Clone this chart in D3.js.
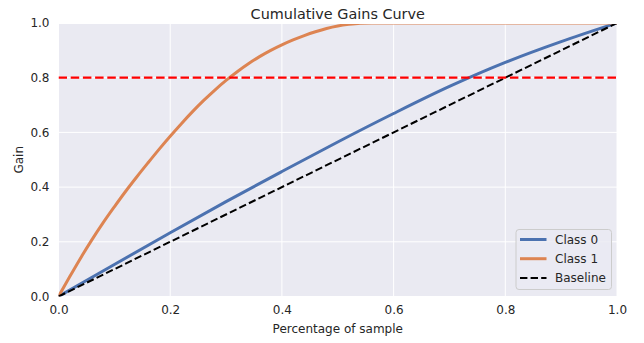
<!DOCTYPE html>
<html>
<head>
<meta charset="utf-8">
<script src="https://cdn.jsdelivr.net/npm/d3@7"></script>
<style>
  html, body { margin: 0; padding: 0; background: #ffffff; }
  svg { display: block; font-family: "DejaVu Sans", sans-serif; }
</style>
</head>
<body>
<svg id="chart" width="644" height="343"></svg>
<script>
// ---- data ----
const title = "Cumulative Gains Curve";
const xLabel = "Percentage of sample";
const yLabel = "Gain";
const xTicks = [0, 0.2, 0.4, 0.6, 0.8, 1.0];
const yTicks = [0, 0.2, 0.4, 0.6, 0.8, 1.0];

const class0X = [0, 0.1, 0.2, 0.3, 0.4, 0.5, 0.6, 0.7, 0.8, 0.9, 1.0];
const class0Y = [0, 0.117, 0.233, 0.347, 0.457, 0.565, 0.669, 0.768, 0.856, 0.932, 1.0];

const class1X = [0, 0.02, 0.04, 0.06, 0.08, 0.1, 0.12, 0.14, 0.16, 0.18, 0.2, 0.22, 0.24, 0.26, 0.28, 0.3,
                 0.32, 0.34, 0.36, 0.38, 0.4, 0.42, 0.44, 0.46, 0.48, 0.5, 0.52, 0.54, 0.56, 1.0];
const class1Y = [0, 0.072, 0.142, 0.208, 0.27, 0.328, 0.384, 0.437, 0.488, 0.538, 0.586, 0.632, 0.676, 0.717, 0.755, 0.79,
                 0.822, 0.851, 0.877, 0.9, 0.92, 0.938, 0.954, 0.968, 0.98, 0.989, 0.995, 0.999, 1.0, 1.0];

const baselineX = [0, 1];
const baselineY = [0, 1];
const thresholdY = 0.8;

const legendLabels = ["Class 0", "Class 1", "Baseline"];

// ---- layout ----
const svg = d3.select("#chart");
const pL = 58.5, pR = 617, pT = 23, pB = 296.5;
const areaTop = 24;
const x = d3.scaleLinear().domain([0, 1]).range([pL, pR]);
const y = d3.scaleLinear().domain([0, 1]).range([pB, pT]);
const txt = "#262626";

// background
svg.append("rect").attr("x", pL).attr("y", areaTop)
  .attr("width", pR - pL).attr("height", pB - areaTop).attr("fill", "#eaeaf2");

// grid
svg.append("g").selectAll("line").data(xTicks).join("line")
  .attr("x1", d => x(d)).attr("x2", d => x(d)).attr("y1", areaTop).attr("y2", pB)
  .attr("stroke", "#ffffff").attr("stroke-width", 1);
svg.append("g").selectAll("line").data(yTicks.filter(d => d < 1)).join("line")
  .attr("y1", d => y(d)).attr("y2", d => y(d)).attr("x1", pL).attr("x2", pR)
  .attr("stroke", "#ffffff").attr("stroke-width", 1);

// axes (no tick marks, no domain line)
const xAxis = d3.axisBottom(x).tickValues(xTicks).tickFormat(d3.format(".1f")).tickSize(0).tickPadding(9);
const gx = svg.append("g").attr("transform", `translate(0,${pB})`).call(xAxis);
gx.select(".domain").remove();
gx.selectAll("text").attr("fill", txt).attr("font-size", 12).attr("font-family", "DejaVu Sans");

const yAxis = d3.axisLeft(y).tickValues(yTicks).tickFormat(d3.format(".1f")).tickSize(0).tickPadding(9);
const gy = svg.append("g").attr("transform", `translate(${pL},0)`).call(yAxis);
gy.select(".domain").remove();
gy.selectAll("text").attr("fill", txt).attr("font-size", 12).attr("font-family", "DejaVu Sans");

// clip to the axes area
svg.append("clipPath").attr("id", "clip").append("rect")
  .attr("x", pL).attr("y", areaTop).attr("width", pR - pL).attr("height", pB - areaTop);

const plot = svg.append("g").attr("clip-path", "url(#clip)");
const line = d3.line().x(d => x(d[0])).y(d => y(d[1])).curve(d3.curveMonotoneX);

const zip = (a, b) => a.map((v, i) => [v, b[i]]);

plot.append("path").attr("d", line(zip(class0X, class0Y)))
  .attr("fill", "none").attr("stroke", "#4c72b0").attr("stroke-width", 3);
plot.append("path").attr("d", line(zip(class1X, class1Y)))
  .attr("fill", "none").attr("stroke", "#dd8452").attr("stroke-width", 3);
plot.append("path").attr("d", d3.line().x(d => x(d[0])).y(d => y(d[1]))(zip(baselineX, baselineY)))
  .attr("fill", "none").attr("stroke", "#000000").attr("stroke-width", 2).attr("stroke-dasharray", "7.4,3.2");
plot.append("line")
  .attr("x1", pL).attr("x2", pR).attr("y1", y(thresholdY)).attr("y2", y(thresholdY))
  .attr("stroke", "#ff0000").attr("stroke-width", 2.2).attr("stroke-dasharray", "8.5,3.7");

// title & labels
svg.append("text").attr("x", (pL + pR) / 2).attr("y", 18.5).attr("text-anchor", "middle")
  .attr("font-size", 14.4).attr("fill", txt).text(title);
svg.append("text").attr("x", (pL + pR) / 2).attr("y", 333).attr("text-anchor", "middle")
  .attr("font-size", 12).attr("fill", txt).text(xLabel);
svg.append("text").attr("transform", `translate(23,${(pT + pB) / 2}) rotate(-90)`)
  .attr("text-anchor", "middle").attr("font-size", 12).attr("fill", txt).text(yLabel);

// legend
const lg = svg.append("g");
lg.append("rect").attr("x", 516).attr("y", 229.5).attr("width", 95.5).attr("height", 60)
  .attr("rx", 3).attr("fill", "#eaeaf2").attr("fill-opacity", 0.8).attr("stroke", "#cccccc").attr("stroke-width", 1);
const legendStyles = [
  { color: "#4c72b0", width: 3, dash: null },
  { color: "#dd8452", width: 3, dash: null },
  { color: "#000000", width: 2, dash: "7.4,3.2" }
];
legendLabels.forEach((lab, i) => {
  const yy = 239.5 + i * 19.2;
  const s = legendStyles[i];
  const l = lg.append("line").attr("x1", 520).attr("x2", 546.5).attr("y1", yy).attr("y2", yy)
    .attr("stroke", s.color).attr("stroke-width", s.width);
  if (s.dash) l.attr("stroke-dasharray", s.dash);
  lg.append("text").attr("x", 555).attr("y", yy).attr("dy", "0.36em")
    .attr("font-size", 12).attr("fill", txt).text(lab);
});
</script>
</body>
</html>
